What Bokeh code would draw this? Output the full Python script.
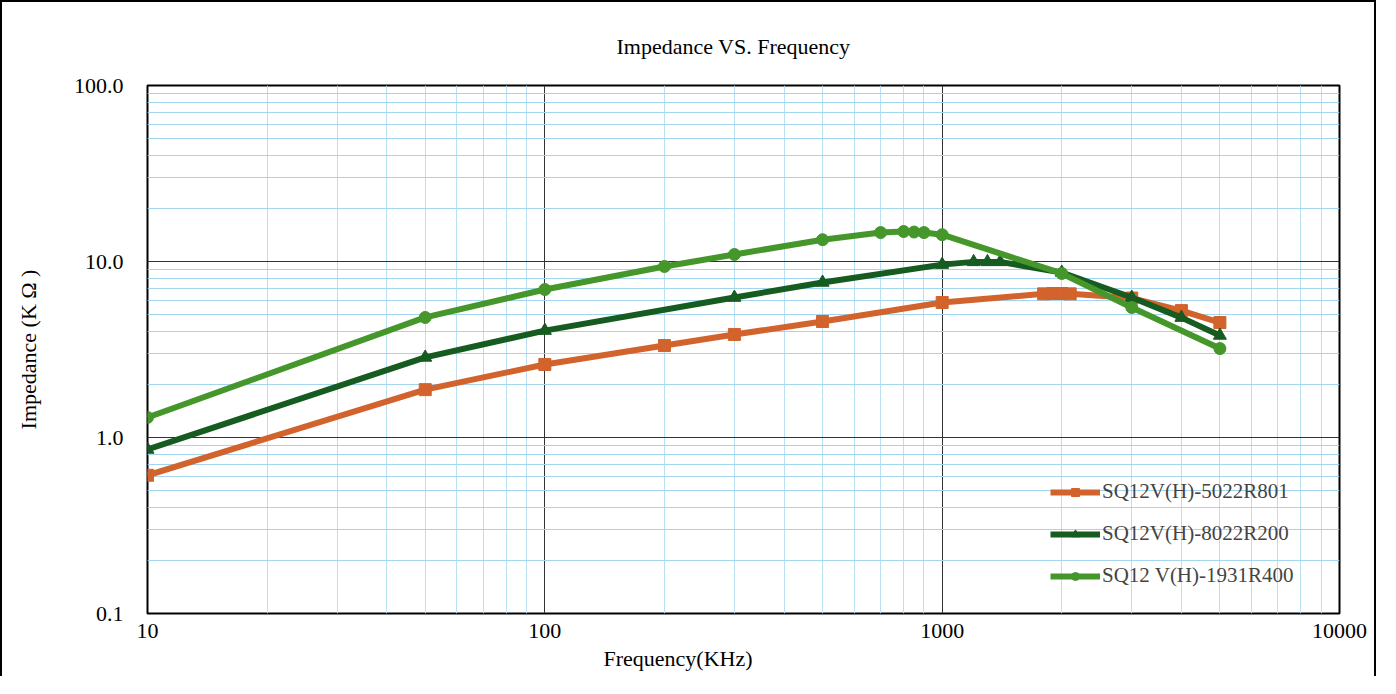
from bokeh.plotting import figure
from bokeh.models import FixedTicker, CustomJSTickFormatter, Legend, LegendItem, Title, Grid
from bokeh.embed import file_html
from bokeh.resources import INLINE

# ---------------- data ----------------
title_text = "Impedance VS. Frequency"
x_label = "Frequency(KHz)"
y_label = "Impedance (K Ω )"

x_major = [10, 100, 1000, 10000]
y_major = [0.1, 1, 10, 100]

names = ["SQ12V(H)-5022R801", "SQ12V(H)-8022R200", "SQ12 V(H)-1931R400"]
colors = ["#D2632C", "#165B20", "#45962B"]
markers = ["square", "triangle", "circle"]
marker_sizes = [12, 13, 12]

freq_a = [10, 50, 100, 200, 300, 500, 1000, 1800, 1900, 2000, 2100, 3000, 4000, 5000]
imp_a = [0.61, 1.87, 2.60, 3.33, 3.85, 4.56, 5.85, 6.55, 6.58, 6.58, 6.55, 6.2, 5.26, 4.5]

freq_b = [10, 50, 100, 300, 500, 1000, 1200, 1300, 1400, 2000, 3000, 4000, 5000]
imp_b = [0.855, 2.85, 4.05, 6.24, 7.6, 9.6, 9.95, 9.95, 9.95, 8.66, 6.24, 4.8, 3.8]

freq_c = [10, 50, 100, 200, 300, 500, 700, 800, 850, 900, 1000, 2000, 3000, 5000]
imp_c = [1.30, 4.81, 6.93, 9.37, 10.96, 13.3, 14.6, 14.8, 14.7, 14.6, 14.2, 8.55, 5.48, 3.2]

series = [(freq_a, imp_a), (freq_b, imp_b), (freq_c, imp_c)]

FONT = "Liberation Serif"

x_minor = [k * 10 ** d for d in range(1, 4) for k in range(2, 10)]
y_minor_low = [k * 10.0 ** d for d in range(-1, 1) for k in range(2, 10)]
y_minor_top = [k * 10.0 for k in range(2, 10)]

p = figure(width=1376, height=676, x_axis_type="log", y_axis_type="log",
           x_range=(10, 10000), y_range=(0.1, 100),
           output_backend="svg", toolbar_location=None,
           min_border_left=145, min_border_right=39, min_border_top=83, min_border_bottom=65)
p.styles = {"border-left": "2px solid black", "border-top": "2px solid black",
            "border-right": "2px solid black"}

xt = FixedTicker(ticks=x_major, minor_ticks=x_minor)
yt = FixedTicker(ticks=y_major, minor_ticks=y_minor_low)
p.xaxis.ticker = xt
p.yaxis.ticker = yt
p.xgrid.ticker = xt
p.ygrid.ticker = yt
p.xaxis.formatter = CustomJSTickFormatter(code="return tick.toFixed(0);")
p.yaxis.formatter = CustomJSTickFormatter(code="return tick.toFixed(1);")

for ax in (p.xaxis, p.yaxis):
    ax.axis_line_color = None
    ax.major_tick_out = 0
    ax.major_tick_in = 0
    ax.minor_tick_out = 0
    ax.minor_tick_in = 0
    ax.major_label_text_font = FONT
    ax.major_label_text_font_size = "22px"
    ax.major_label_text_color = "black"
p.yaxis.major_label_standoff = 24
p.xaxis.major_label_standoff = 10
p.yaxis.axis_label = y_label
p.yaxis.axis_label_text_font = FONT
p.yaxis.axis_label_text_font_size = "22px"
p.yaxis.axis_label_text_font_style = "normal"
p.yaxis.axis_label_text_color = "black"
p.yaxis.axis_label_standoff = 30

# faint minor grid for the top decade
top_grid = Grid(dimension=1, ticker=FixedTicker(ticks=[], minor_ticks=y_minor_top),
                grid_line_color=None, minor_grid_line_color="#e2f0f8", minor_grid_line_width=1)
p.add_layout(top_grid)

p.xgrid.minor_grid_line_color = "#b8dff2"
p.ygrid.minor_grid_line_color = "#a3d6ee"
for g in (p.xgrid, p.ygrid):
    g.grid_line_color = "#333333"
    g.grid_line_width = 1
    g.minor_grid_line_width = 1

p.outline_line_color = "black"
p.outline_line_width = 2
p.background_fill_color = "white"

items = []
for (fx, fy), name, c, m, ms in zip(series, names, colors, markers, marker_sizes):
    ln = p.line(fx, fy, line_color=c, line_width=6, line_join="round")
    sc = p.scatter(fx, fy, marker=m, size=ms, fill_color=c, line_color=c)
    items.append(LegendItem(label=name, renderers=[ln, sc]))

legend = Legend(items=items, location=(903, 25), glyph_width=50, glyph_height=20,
                label_standoff=2, spacing=17, padding=0, margin=0,
                background_fill_alpha=0, border_line_alpha=0,
                label_text_font=FONT, label_text_font_size="21px")
p.add_layout(legend)

p.title = Title(text=title_text, align="left", offset=469, standoff=54,
                text_font=FONT, text_font_size="22px", text_font_style="normal",
                text_color="black")
p.add_layout(Title(text=x_label, align="left", offset=456, standoff=7,
                   text_font=FONT, text_font_size="22px", text_font_style="normal",
                   text_color="black"), "below")

open("out.html", "w").write(file_html(p, INLINE))
